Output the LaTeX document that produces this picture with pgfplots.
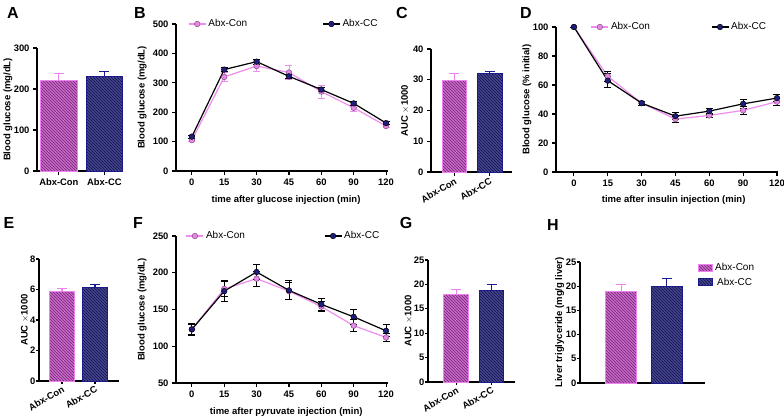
\documentclass[border=0pt]{standalone}
\usepackage{fontspec}
\setmainfont{Liberation Sans}
\usepackage{pgfplots}
\pgfplotsset{compat=1.18}
\usetikzlibrary{patterns}
\definecolor{pk}{HTML}{EE82EE}
\definecolor{pkfill}{HTML}{C869C8}
\definecolor{pkhatch}{HTML}{762476}
\definecolor{pkline}{HTML}{F08CF0}
\definecolor{pkmark}{HTML}{E48AE4}
\definecolor{pkdark}{HTML}{8A4A8A}
\definecolor{nv}{HTML}{1A1A8C}
\definecolor{nvfill}{HTML}{46468F}
\definecolor{nvhatch}{HTML}{10104A}
\definecolor{nvmark}{HTML}{1E1E80}
\pgfplotsset{
  gp/.style={
    scale only axis,
    axis x line*=bottom, axis y line*=left,
    axis line style={line width=1.1pt},
    tick align=outside,
    tick style={line width=1.1pt, black},
    major tick length=4pt,
    minor tick num=0,
    ticklabel style={font=\bfseries\fontsize{9.4}{10}\selectfont},
    label style={font=\bfseries\fontsize{9.5}{11}\selectfont},
    /pgf/number format/assume math mode=true,
    scaled y ticks=false,
    clip=false,
    anchor=south west,
  },
  tight/.style={major tick length=3pt, yticklabel style={inner xsep=0.5pt}, ylabel style={inner sep=1pt}},
  ylab/.style={ylabel style={at={(axis description cs:#1,0.5)}, anchor=center}},
  xlab/.style 2 args={xlabel style={at={(axis description cs:#1,#2)}, anchor=center}},
  bargp/.style={gp, xtick={0,1}, xticklabels={Abx-Con,Abx-CC}, ymin=0},
  rotlab/.style={xticklabel style={rotate=30, anchor=north east, inner sep=1pt}},
  linegp/.style={gp, xtick={0,...,6}, xticklabels={0,15,30,45,60,90,120}, xmin=-0.49, xmax=6.06,
    legend columns=2,
    legend style={draw=none, fill=none, font=\fontsize{10}{11}\selectfont, anchor=west},
  },
  colsep/.style={legend style={/tikz/every even column/.append style={column sep=#1}}},
  conbar/.style={ybar, bar shift=0pt, fill=pkfill, draw=pk, line width=1pt,
    postaction={pattern=north west lines, pattern color=pkhatch},
    error bars/.cd, y dir=plus, y explicit,
    error bar style={line width=1.1pt, pk},
    error mark options={rotate=90, mark size=5pt, line width=1.1pt, pk}},
  ccbar/.style={ybar, bar shift=0pt, fill=nvfill, draw=nv, line width=1pt,
    postaction={pattern=north west lines, pattern color=nvhatch},
    error bars/.cd, y dir=plus, y explicit,
    error bar style={line width=1.1pt, nv},
    error mark options={rotate=90, mark size=5pt, line width=1.1pt, nv}},
  conline/.style={pkline, line width=1.2pt, mark=*, mark size=2.8pt,
    mark options={fill=pkmark, draw=pkdark, line width=0.5pt},
    error bars/.cd, y dir=both, y explicit,
    error bar style={line width=0.9pt, black},
    error mark options={rotate=90, mark size=3.5pt, line width=0.9pt, black}},
  conlinepk/.style={pkline, line width=1.2pt, mark=*, mark size=2.8pt,
    mark options={fill=pkmark, draw=pkdark, line width=0.5pt},
    error bars/.cd, y dir=both, y explicit,
    error bar style={line width=0.9pt, pkline},
    error mark options={rotate=90, mark size=3.5pt, line width=0.9pt, pkline}},
  ccline/.style={black, line width=1.2pt, mark=*, mark size=2.8pt,
    mark options={fill=nvmark, draw=black, line width=0.5pt},
    error bars/.cd, y dir=both, y explicit,
    error bar style={line width=0.9pt, black},
    error mark options={rotate=90, mark size=3.5pt, line width=0.9pt, black}},
}
\begin{document}
\begin{tikzpicture}[x=1pt,y=1pt]
\useasboundingbox (0,0) rectangle (784,416);
\fill[white] (0,0) rectangle (784,416);
% panel letters
\foreach \l/\x/\y in {A/13/403, B/140/403, C/402/403, D/526/403, E/9/193, F/138/193, G/406/193, H/553/191}
  \node[font=\bfseries\fontsize{16}{18}\selectfont] at (\x,\y) {\l};
% A
\begin{axis}[bargp, at={(37pt,245pt)}, width=86pt, height=123pt,
  xmin=-0.48, xmax=1.41, ymax=300, ytick={0,100,200,300}, bar width=0.8,
  ylabel={Blood glucose  (mg/dL)}, ylab=-0.337]
\addplot[conbar] coordinates {(0,221) +- (0,16)};
\addplot[ccbar] coordinates {(1,231) +- (0,11)};
\end{axis}
% B
\begin{axis}[linegp, at={(176pt,245pt)}, width=212pt, height=147pt,
  ymin=0, ymax=500, ytick={0,100,...,500},
  xlabel={time after glucose injection (min)}, ylabel={Blood glucose  (mg/dL)},
  ylab=-0.160, xlab={0.519}{-0.197}, colsep=73pt,
  legend style={at={(axis description cs:0.042,1)}}]
\addplot[conlinepk] coordinates {(0,105)+-(0,5) (1,320)+-(0,15) (2,357)+-(0,20) (3,335)+-(0,25) (4,270)+-(0,22) (5,215)+-(0,12) (6,153)+-(0,6)};
\addplot[ccline] coordinates {(0,117)+-(0,5) (1,345)+-(0,8) (2,372)+-(0,8) (3,322)+-(0,8) (4,277)+-(0,8) (5,230)+-(0,6) (6,163)+-(0,5)};
\legend{Abx-Con, Abx-CC}
\end{axis}
% C
\begin{axis}[bargp, rotlab, at={(431pt,244pt)}, width=81pt, height=123pt,
  xmin=-0.67, xmax=1.64, ymax=40, ytick={0,10,...,40}, bar width=0.71,
  ylabel={AUC $\times$1000}, ylab=-0.32]
\addplot[conbar] coordinates {(0,29.7) +- (0,2.3)};
\addplot[ccbar] coordinates {(1,32.0) +- (0,0.7)};
\end{axis}
% D
\begin{axis}[linegp, at={(556pt,244pt)}, width=222pt, height=145pt, xmin=-0.53, xmax=6.03,
  ymin=0, ymax=100, ytick={0,20,...,100},
  xlabel={time after insulin injection (min)}, ylabel={Blood glucose  (\% initial)},
  ylab=-0.131, xlab={0.53}{-0.193}, colsep=59pt,
  legend style={at={(axis description cs:0.142,1)}}]
\addplot[conline] coordinates {(0,100)+-(0,0) (1,66)+-(0,3.5) (2,47.5)+-(0,1.5) (3,36.5)+-(0,2) (4,39)+-(0,1.5) (5,42.5)+-(0,2.5) (6,48.5)+-(0,2.5)};
\addplot[ccline] coordinates {(0,100)+-(0,0) (1,63)+-(0,5) (2,47.5)+-(0,1.5) (3,38.5)+-(0,2.5) (4,42)+-(0,2) (5,47)+-(0,3) (6,51)+-(0,2.5)};
\legend{Abx-Con, Abx-CC}
\end{axis}
% E
\begin{axis}[bargp, rotlab, tight, at={(39pt,35pt)}, width=80pt, height=122pt,
  xmin=-0.7, xmax=1.73, ymax=8, ytick={0,2,...,8}, bar width=0.76,
  ylabel={AUC $\times$1000}]
\addplot[conbar] coordinates {(0,5.85) +- (0,0.2)};
\addplot[ccbar] coordinates {(1,6.1) +- (0,0.25)};
\end{axis}
% F
\begin{axis}[linegp, at={(176pt,33pt)}, width=212pt, height=147pt,
  ymin=50, ymax=250, ytick={50,100,...,250},
  xlabel={time after pyruvate injection (min)}, ylabel={Blood glucose  (mg/dL)},
  ylab=-0.160, xlab={0.52}{-0.197}, colsep=77pt,
  legend style={at={(axis description cs:0.031,1)}}]
\addplot[conline] coordinates {(0,123)+-(0,7) (1,178)+-(0,10) (2,192)+-(0,10) (3,175)+-(0,12) (4,154)+-(0,7) (5,128)+-(0,8) (6,112)+-(0,5)};
\addplot[ccline] coordinates {(0,123)+-(0,8) (1,175)+-(0,14) (2,201)+-(0,10) (3,176)+-(0,13) (4,157)+-(0,8) (5,140)+-(0,10) (6,121)+-(0,8)};
\legend{Abx-Con, Abx-CC}
\end{axis}
% G
\begin{axis}[bargp, rotlab, tight, at={(428pt,34pt)}, width=87pt, height=122pt,
  xmin=-0.81, xmax=1.67, ymax=25, ytick={0,5,...,25}, bar width=0.71,
  ylabel={AUC $\times$1000}]
\addplot[conbar] coordinates {(0,18.0) +- (0,0.9)};
\addplot[ccbar] coordinates {(1,18.7) +- (0,1.2)};
\end{axis}
% H
\begin{axis}[bargp, tight, at={(580pt,33pt)}, width=125pt, height=121pt,
  xmin=-0.91, xmax=1.84, ymax=25, ytick={0,5,...,25}, bar width=0.68,
  xtick=\empty, ylabel={Liver triglyceride (mg/g liver)},
  legend style={at={(axis description cs:0.92,1.025)}, anchor=north west, draw=none, fill=none,
    font=\fontsize{10}{11}\selectfont, row sep=2pt},
  legend image code/.code={\draw[#1] (0pt,-3.5pt) rectangle (14pt,3.5pt);}]
\addplot[conbar] coordinates {(0,19.0) +- (0,1.4)};
\addplot[ccbar] coordinates {(1,20.0) +- (0,1.6)};
\legend{Abx-Con, Abx-CC}
\end{axis}
\end{tikzpicture}
\end{document}
